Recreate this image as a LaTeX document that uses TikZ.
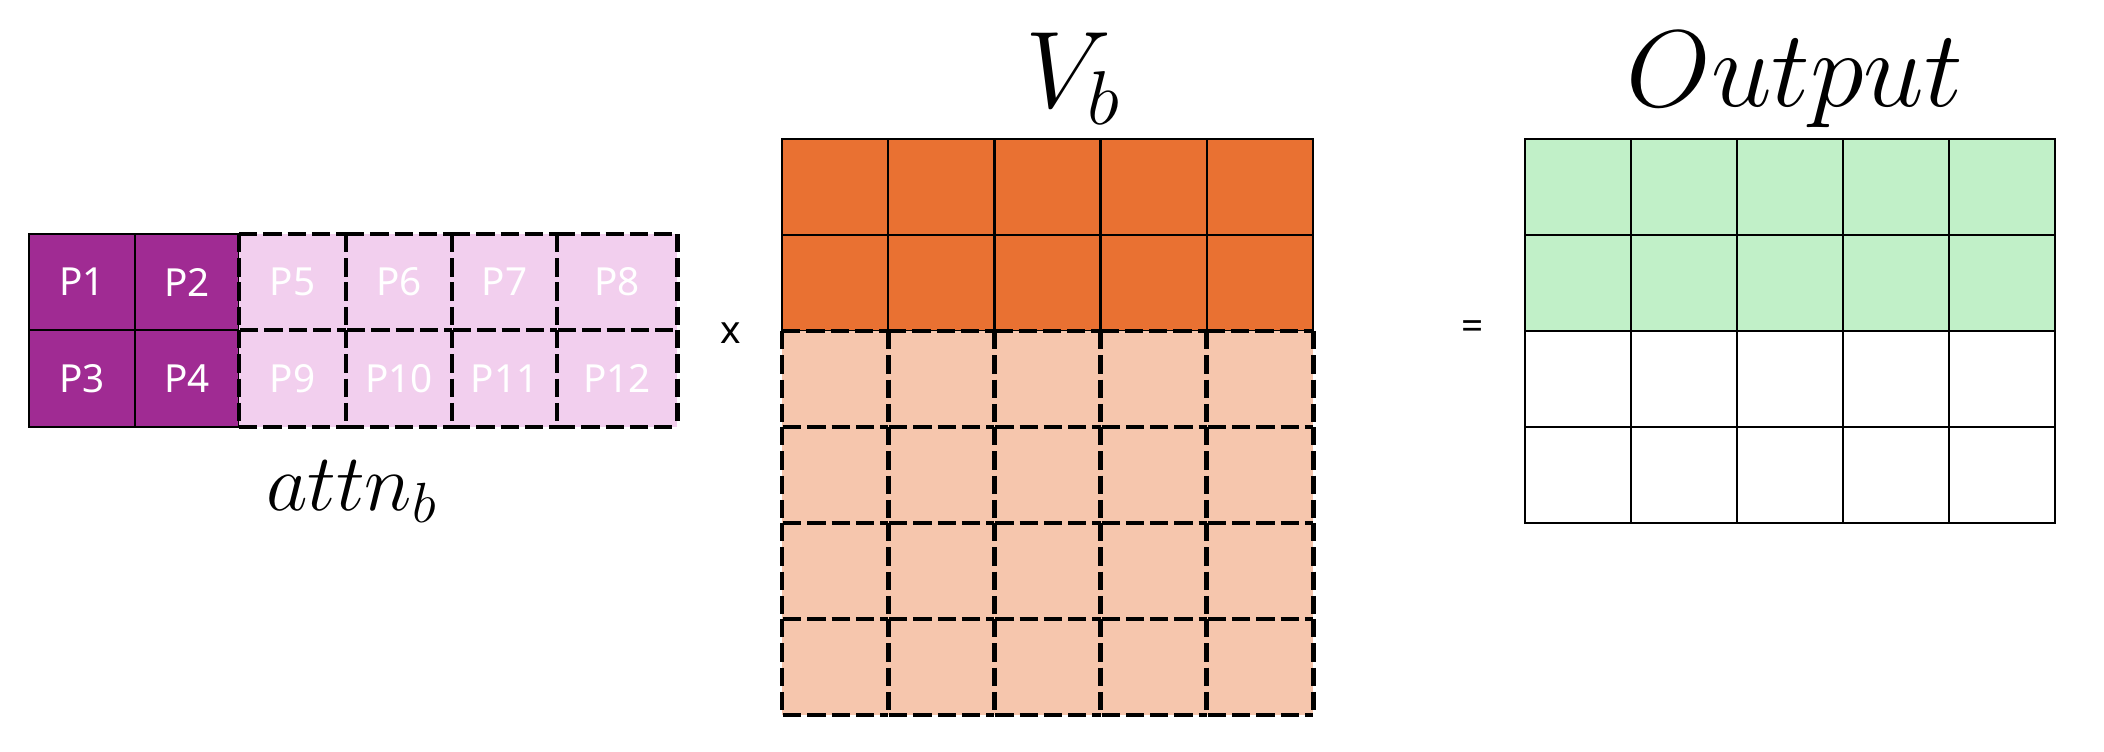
\RequirePackage{fix-cm}
\documentclass[tikz,border=0pt]{standalone}
\usepackage{fontspec}
\newfontfamily\cellfont{Noto Sans}
\definecolor{purpleD}{HTML}{A02B93}
\definecolor{purpleL}{HTML}{F2CFEE}
\definecolor{orangeD}{HTML}{E97132}
\definecolor{orangeL}{HTML}{F6C6AD}
\definecolor{greenL}{HTML}{C1F0C8}
\begin{document}
\begin{tikzpicture}[x=0.01cm,y=-0.01cm,
  cellbase/.style={rectangle, inner sep=0pt, outer sep=0pt,
    font=\cellfont\fontsize{11}{12}\selectfont, text=white},
  solidcell/.style={cellbase, draw=black, line width=0.65pt},
  fillcell/.style={cellbase},
  dashline/.style={draw=black, line width=1.4pt, dash pattern=on 5.2pt off 1.7pt},
  mathlabel/.style={anchor=base, inner sep=0pt, font=\fontsize{31}{31}\selectfont},
  signlabel/.style={inner sep=0pt, font=\cellfont\fontsize{11}{11}\selectfont}]
\useasboundingbox (0,0) rectangle (2104,752);

% ---------- attn_b ----------
\foreach \cx/\w/\lab/\nm in {82/1.06/P1/p1, 187/1.04/P2/p2}
  \node[solidcell, fill=purpleD, minimum width=\w cm, minimum height=0.96cm] (\nm) at (\cx,282) {\lab};
\foreach \cx/\w/\lab/\nm in {82/1.06/P3/p3, 187/1.04/P4/p4}
  \node[solidcell, fill=purpleD, minimum width=\w cm, minimum height=0.97cm] (\nm) at (\cx,378.5) {\lab};
\foreach \cx/\w/\lab/\nm in {292.5/1.07/P5/p5, 399/1.06/P6/p6, 504.5/1.05/P7/p7, 617/1.20/P8/p8}
  \node[fillcell, fill=purpleL, minimum width=\w cm, minimum height=0.96cm] (\nm) at (\cx,282) {\lab};
\foreach \cx/\w/\lab/\nm in {292.5/1.07/P9/p9, 399/1.06/P10/p10, 504.5/1.05/P11/p11, 617/1.20/P12/p12}
  \node[fillcell, fill=purpleL, minimum width=\w cm, minimum height=0.97cm] (\nm) at (\cx,378.5) {\lab};
% dashed borders of the light cells
\foreach \c in {p5,p6,p7,p8,p9,p10,p11,p12}
  \draw[dashline] (\c.north west) -- (\c.south west) -- (\c.south east);
\foreach \c in {p5,p6,p7,p8}
  \draw[dashline] (\c.north west) -- (\c.north east);
\foreach \c in {p8,p12}
  \draw[dashline] (\c.north east) -- (\c.south east);
\node[mathlabel, font=\fontsize{23}{23}\selectfont] (attnlab) at (352,510) {$attn_b$};

% ---------- sign x ----------
\node[signlabel] (times) at (731,333) {x};

% ---------- V_b ----------
\foreach \j in {0,1}
  \foreach \i in {0,...,4}
    \node[solidcell, fill=orangeD, minimum width=1.062cm, minimum height=0.96cm]
      (v-\j-\i) at ({782+106.2*\i+53.1},{139+96*\j+48}) {};
\foreach \j in {2,...,5}
  \foreach \i in {0,...,4}
    \node[fillcell, fill=orangeL, minimum width=1.062cm, minimum height=0.96cm]
      (v-\j-\i) at ({782+106.2*\i+53.1},{139+96*\j+48}) {};
\foreach \j in {2,...,5}
  \foreach \i in {0,...,4}
    \draw[dashline] (v-\j-\i.north west) -- (v-\j-\i.south west) -- (v-\j-\i.south east);
\foreach \i in {0,...,4}
  \draw[dashline] (v-2-\i.north west) -- (v-2-\i.north east);
\foreach \j in {2,...,5}
  \draw[dashline] (v-\j-4.north east) -- (v-\j-4.south east);
\node[mathlabel] (vlab) at (1073,108) {$V_b$};

% ---------- sign = ----------
\node[signlabel] (eq) at (1473,330) {=};

% ---------- Output ----------
\foreach \j in {0,1}
  \foreach \i in {0,...,4}
    \node[solidcell, fill=greenL, minimum width=1.06cm, minimum height=0.96cm]
      (o-\j-\i) at ({1525+106*\i+53},{139+96*\j+48}) {};
\foreach \j in {2,3}
  \foreach \i in {0,...,4}
    \node[solidcell, fill=white, minimum width=1.06cm, minimum height=0.96cm]
      (o-\j-\i) at ({1525+106*\i+53},{139+96*\j+48}) {};
\node[mathlabel] (outlab) at (1795,107) {$Output$};
\end{tikzpicture}
\end{document}
